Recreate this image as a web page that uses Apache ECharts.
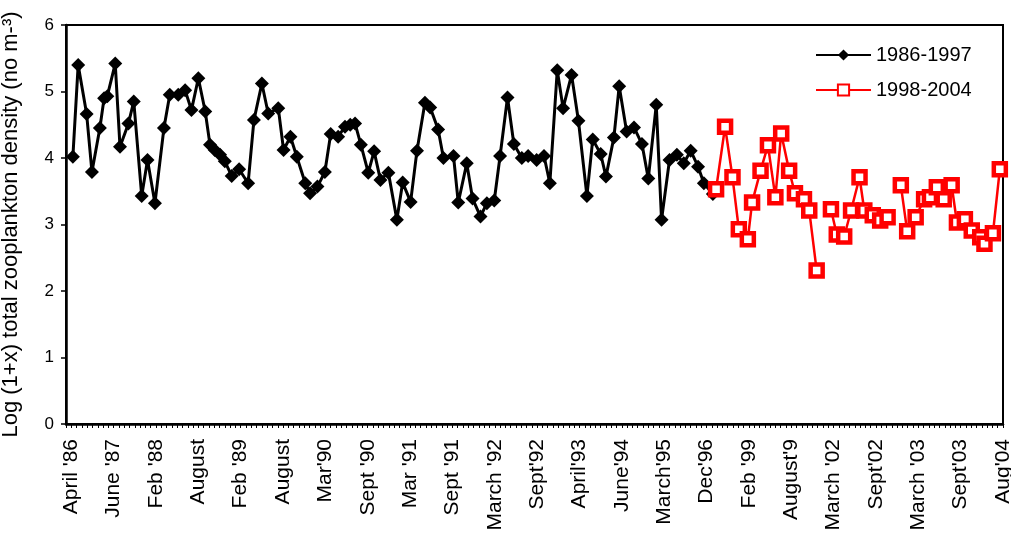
<!DOCTYPE html>
<html>
<head>
<meta charset="utf-8">
<script src="https://cdn.jsdelivr.net/npm/echarts@6/dist/echarts.min.js"></script>
<style>
html,body{margin:0;padding:0;background:#fff;}
#chart{width:1011px;height:533px;}
</style>
</head>
<body>
<div id="chart"></div>
<script>
// Tick labels (placed every 8 axis slots, starting at slot 1)
const tickLabels = ["April '86","June '87","Feb '88","August","Feb '89","August","Mar'90","Sept '90","Mar '91","Sept '91","March '92","Sept'92","April'93","June'94","March'95","Dec'96","Feb '99","August'9","March '02","Sept'02","March '03","Sept'03","Aug'04"];

// 1986-1997 series: position along the sampling axis (slot units) and value
const blackX = [1.3,2.3,3.9,4.9,6.4,7.2,7.8,9.3,10.2,11.8,12.8,14.3,15.4,16.8,18.5,19.6,21.2,22.5,23.7,25.0,26.3,27.2,28.1,29.1,30.0,31.3,32.7,34.4,35.5,37.0,38.2,40.1,41.1,42.4,43.6,45.2,46.1,47.5,48.9,50.0,51.4,52.7,53.7,54.6,55.7,57.1,58.2,59.4,60.9,62.5,63.6,65.1,66.3,67.8,68.8,70.3,71.3,73.2,74.1,75.7,76.8,78.3,79.5,80.9,82.0,83.4,84.6,86.1,87.3,88.9,90.3,91.4,92.8,93.9,95.5,96.8,98.4,99.5,101.0,102.0,103.5,104.5,105.9,107.3,108.8,110.0,111.5,112.5,114.0,115.4,116.7,118.0,119.4,120.5,122.2];
const blackY = [4.02,5.40,4.66,3.79,4.45,4.90,4.93,5.42,4.17,4.52,4.85,3.43,3.97,3.32,4.45,4.95,4.95,5.02,4.72,5.20,4.70,4.20,4.12,4.05,3.95,3.73,3.83,3.62,4.57,5.12,4.67,4.75,4.12,4.32,4.02,3.62,3.47,3.57,3.79,4.36,4.32,4.47,4.50,4.52,4.20,3.78,4.10,3.67,3.78,3.07,3.63,3.34,4.11,4.83,4.76,4.43,4.00,4.03,3.33,3.92,3.39,3.12,3.32,3.36,4.03,4.91,4.21,4.00,4.03,3.97,4.03,3.62,5.32,4.75,5.25,4.56,3.43,4.28,4.06,3.72,4.31,5.08,4.40,4.46,4.21,3.69,4.80,3.07,3.97,4.05,3.92,4.11,3.87,3.62,3.46];

// 1998-2004 series (null = gap in sampling)
const redX = [122.8,124.5,125.9,127.1,128.8,129.6,131.2,132.6,134.0,135.1,136.6,137.7,139.4,140.4,141.8,null,144.5,145.6,147.0,148.3,149.9,150.8,152.4,153.8,155.2,null,157.7,158.9,160.5,162.1,163.2,164.5,165.8,167.3,168.3,169.8,171.1,172.7,173.5,175.1,176.4];
const redY = [3.53,4.47,3.71,2.93,2.78,3.33,3.81,4.19,3.41,4.37,3.81,3.47,3.38,3.21,2.31,null,3.23,2.85,2.82,3.21,3.71,3.21,3.14,3.06,3.11,null,3.59,2.90,3.11,3.38,3.41,3.56,3.38,3.59,3.03,3.08,2.91,2.81,2.71,2.87,3.83];

const yTicks = [0,1,2,3,4,5,6];

const FONT = "'Liberation Sans', Arial, sans-serif";
const blackData = blackX.map((x,i)=>[x, blackY[i]]);
const redData = redX.map((x,i)=> redY[i]===null ? '-' : [x, redY[i]]);

const chart = echarts.init(document.getElementById('chart'), null, {renderer:'canvas'});
chart.setOption({
  animation: false,
  backgroundColor: '#fff',
  grid: {left: 66, right: 8, top: 25, bottom: 109, containLabel: false, outerBoundsMode: 'none',
         show: true, borderColor: '#000', borderWidth: 2, backgroundColor: 'transparent'},
  legend: {
    orient: 'vertical', left: 810, top: 40,
    itemWidth: 55, itemHeight: 14, itemGap: 15,
    textStyle: {fontFamily: FONT, fontSize: 20, color: '#000'},
    data: ['1986-1997','1998-2004']
  },
  xAxis: {
    type: 'value', min: 0, max: 177, interval: 1,
    axisLine: {show: true, lineStyle: {color: '#000', width: 2.5}},
    axisTick: {show: true, length: 4, lineStyle: {color: '#000', width: 1}},
    splitLine: {show: false},
    axisLabel: {
      rotate: 90, margin: 15, fontFamily: FONT, fontSize: 21, color: '#000',
      showMinLabel: true, showMaxLabel: true,
      formatter: function(v){
        const k = Math.round(v);
        if ((k - 1) % 8 === 0 && k >= 1) { const idx = (k-1)/8; return tickLabels[idx] || ''; }
        return '';
      }
    }
  },
  yAxis: {
    type: 'value', min: yTicks[0], max: yTicks[yTicks.length-1], interval: 1,
    name: 'Log (1+x) total zooplankton density (no m-³)',
    nameLocation: 'middle', nameGap: 44,
    nameTextStyle: {fontFamily: FONT, fontSize: 22, color: '#000'},
    axisLine: {show: true, lineStyle: {color: '#000', width: 2.5}},
    axisTick: {show: true, length: 5, lineStyle: {color: '#000', width: 1.5}},
    splitLine: {show: false},
    axisLabel: {margin: 12, fontFamily: FONT, fontSize: 17, color: '#000'}
  },
  series: [
    {
      name: '1986-1997', type: 'line', data: blackData,
      symbol: 'diamond', symbolSize: 14,
      lineStyle: {color: '#000', width: 3},
      itemStyle: {color: '#000'},
      connectNulls: true
    },
    {
      name: '1998-2004', type: 'line', data: redData,
      symbol: 'rect', symbolSize: 12,
      lineStyle: {color: '#ff0000', width: 2.5},
      itemStyle: {color: '#fff', borderColor: '#ff0000', borderWidth: 4.5},
      connectNulls: false
    }
  ]
});
</script>
</body>
</html>
